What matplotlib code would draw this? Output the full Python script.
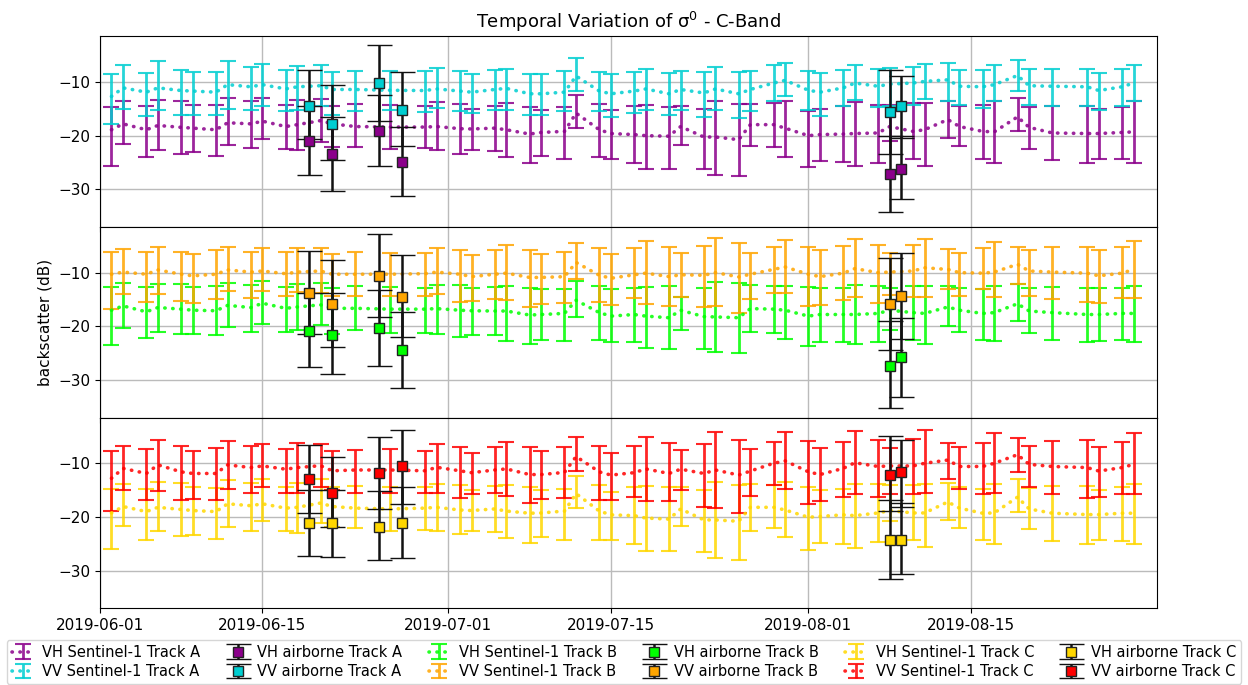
import numpy as np
import pandas as pd
import matplotlib
matplotlib.use('Agg')
from matplotlib import pyplot as plt
import matplotlib.dates as mdates

# Sentinel-1 acquisition dates
s1_dates = ['2019-06-02', '2019-06-03', '2019-06-05', '2019-06-06', '2019-06-08', '2019-06-09',
            '2019-06-11', '2019-06-12', '2019-06-14', '2019-06-15', '2019-06-17', '2019-06-18',
            '2019-06-20', '2019-06-21', '2019-06-23', '2019-06-26', '2019-06-29', '2019-06-30',
            '2019-07-02', '2019-07-03', '2019-07-05', '2019-07-06', '2019-07-08', '2019-07-09',
            '2019-07-11', '2019-07-12', '2019-07-14', '2019-07-15', '2019-07-17', '2019-07-18',
            '2019-07-20', '2019-07-21', '2019-07-23', '2019-07-24', '2019-07-26', '2019-07-27',
            '2019-07-29', '2019-07-30', '2019-08-01', '2019-08-02', '2019-08-04', '2019-08-05',
            '2019-08-07', '2019-08-08', '2019-08-10', '2019-08-11', '2019-08-13', '2019-08-14',
            '2019-08-16', '2019-08-17', '2019-08-19', '2019-08-20', '2019-08-22', '2019-08-25',
            '2019-08-26', '2019-08-28', '2019-08-29']

# mean backscatter (dB) and upper / lower bounds of the spread
vh_a = [-18.9, -17.8, -18.9, -18.1, -18.45, -18.6, -18.9, -17.6, -17.8, -17.3, -18.3, -17.95,
        -17.2, -17.8, -18.3, -18.4, -18.4, -18.3, -18.7, -18.75, -18.6, -18.9, -19.7, -19.4,
        -19.2, -15.8, -18.9, -19.6, -19.8, -20.0, -20.1, -18.3, -20.25, -20.25, -20.75, -17.95,
        -17.95, -18.6, -20.0, -19.8, -19.7, -19.6, -19.5, -18.3, -19.2, -18.9, -17.0, -18.3,
        -19.2, -19.3, -16.5, -18.45, -19.5, -19.6, -19.6, -19.4, -19.3]
vh_a_hi = [-14.7, -13.5, -14.5, -13.3, -13.5, -14.35, -14.35, -13.0, -13.5, -13.0, -14.35, -13.3,
           -13.2, -14.5, -14.1, -14.2, -14.5, -13.7, -14.1, -14.97, -14.4, -13.9, -14.7, -15.15,
           -14.7, -12.35, -14.1, -15.3, -14.5, -14.35, -14.7, -14.5, -14.97, -13.5, -14.1, -14.1,
           -13.9, -13.5, -15.5, -14.97, -14.5, -13.7, -14.2, -14.2, -14.0, -14.0, -13.6, -14.4,
           -14.2, -13.6, -13.0, -14.7, -14.4, -14.4, -15.0, -14.7, -13.6]
vh_a_lo = [-25.7, -21.55, -24.0, -22.6, -23.35, -23.0, -23.7, -21.8, -22.3, -20.6, -22.5, -22.7,
           -21.2, -22.2, -22.2, -22.5, -22.3, -22.7, -23.5, -22.7, -22.9, -24.0, -25.0, -23.7,
           -24.3, -18.6, -24.0, -24.3, -25.1, -26.2, -26.2, -21.7, -26.2, -27.3, -27.6, -22.0,
           -22.1, -24.0, -25.8, -24.7, -24.9, -25.6, -25.0, -21.05, -24.3, -25.6, -20.4, -22.0,
           -24.3, -25.1, -19.2, -22.4, -24.5, -25.0, -24.3, -24.3, -25.1]

vv_a = [-12.7, -11.1, -11.9, -11.1, -11.6, -11.7, -11.9, -10.5, -10.9, -10.5, -11.3, -10.9,
        -10.7, -11.4, -11.4, -11.55, -11.6, -11.3, -11.7, -11.9, -11.4, -11.2, -12.2, -12.2,
        -11.9, -8.9, -11.7, -12.2, -11.7, -11.3, -12.2, -11.4, -12.05, -11.3, -12.2, -11.4,
        -10.2, -9.7, -11.55, -11.9, -11.1, -10.2, -10.8, -10.4, -10.2, -9.9, -9.6, -10.8,
        -10.9, -10.5, -8.8, -10.7, -10.8, -10.9, -11.6, -10.9, -10.2]
vv_a_hi = [-8.45, -6.9, -8.3, -6.15, -7.7, -8.1, -8.1, -6.15, -7.3, -6.65, -7.7, -7.1,
           -6.8, -8.2, -7.9, -8.0, -7.9, -7.4, -8.0, -8.6, -7.7, -7.5, -8.5, -8.6,
           -8.0, -5.5, -8.1, -8.6, -8.1, -7.5, -8.3, -7.9, -8.1, -7.3, -8.2, -7.9,
           -6.8, -6.5, -7.9, -8.3, -7.7, -6.9, -7.6, -7.4, -7.3, -6.65, -6.5, -7.7,
           -7.7, -6.9, -5.85, -7.5, -7.5, -7.5, -8.3, -7.5, -6.9]
vv_a_lo = [-17.8, -15.0, -16.4, -15.15, -16.1, -16.1, -16.1, -15.0, -15.3, -14.5, -15.5, -15.15,
           -14.5, -16.1, -15.5, -15.3, -15.65, -14.85, -15.5, -15.8, -15.15, -15.15, -16.1, -16.1,
           -15.5, -11.7, -15.5, -16.6, -15.8, -15.15, -16.1, -15.15, -16.5, -15.15, -16.7, -15.5,
           -13.6, -12.7, -15.15, -16.4, -14.5, -13.3, -14.6, -14.4, -14.2, -13.2, -13.6, -14.2,
           -14.85, -13.6, -11.6, -14.2, -14.4, -14.4, -15.3, -14.5, -13.6]

vh_b = [-17.0, -16.2, -17.3, -16.5, -16.8, -17.0, -17.1, -16.1, -16.5, -15.7, -16.65, -16.4,
        -16.0, -16.65, -16.65, -16.8, -16.8, -16.7, -17.0, -17.1, -17.15, -17.15, -17.9, -17.8,
        -17.6, -15.15, -17.45, -18.1, -17.8, -18.1, -18.4, -17.0, -18.2, -18.25, -18.4, -16.7,
        -16.8, -17.0, -18.1, -17.8, -17.8, -17.8, -17.6, -17.0, -17.45, -17.6, -16.4, -17.0,
        -17.6, -17.45, -15.8, -17.15, -17.45, -17.8, -17.8, -17.6, -17.6]
vh_b_hi = [-12.7, -12.0, -12.7, -12.2, -12.2, -12.7, -12.5, -12.0, -12.3, -11.55, -12.7, -12.2,
           -12.0, -12.8, -12.5, -12.7, -12.9, -12.3, -12.3, -12.9, -12.7, -12.5, -12.9, -13.1,
           -13.1, -11.55, -12.5, -13.1, -12.8, -12.7, -12.5, -14.5, -12.8, -11.7, -12.0, -12.3,
           -12.5, -12.4, -12.7, -12.8, -12.8, -12.3, -12.5, -12.8, -12.5, -12.5, -12.5, -12.9,
           -13.1, -12.5, -12.05, -12.9, -12.7, -12.9, -12.9, -12.9, -12.5]
vh_b_lo = [-23.5, -20.4, -22.1, -21.0, -21.5, -21.5, -21.7, -20.1, -21.0, -19.5, -21.0, -20.6,
           -19.8, -21.5, -20.75, -21.2, -21.2, -21.4, -21.9, -21.7, -21.7, -22.7, -23.2, -22.55,
           -22.7, -18.2, -22.55, -22.9, -23.0, -24.1, -24.3, -20.75, -24.3, -24.7, -25.0, -21.0,
           -21.3, -22.3, -23.7, -23.0, -23.0, -23.2, -23.0, -20.6, -22.55, -23.2, -19.9, -21.0,
           -22.55, -22.7, -19.0, -21.3, -22.55, -23.0, -22.7, -22.55, -22.9]

vv_b = [-10.3, -9.9, -10.3, -9.5, -10.3, -10.6, -10.3, -9.5, -9.9, -9.7, -10.2, -9.9,
        -9.7, -10.3, -10.3, -10.3, -10.2, -9.9, -10.3, -10.75, -10.3, -10.1, -10.9, -10.9,
        -10.75, -8.1, -10.5, -11.05, -10.4, -10.1, -10.75, -10.4, -10.5, -10.0, -10.8, -10.3,
        -9.4, -8.95, -10.3, -10.75, -10.1, -9.25, -10.0, -9.9, -9.7, -9.1, -9.4, -10.0,
        -10.1, -9.9, -8.45, -9.7, -9.9, -10.1, -10.6, -10.1, -9.4]
vv_b_hi = [-6.1, -5.65, -6.1, -5.15, -6.1, -6.45, -5.85, -5.15, -6.1, -5.5, -6.1, -5.35,
           -5.5, -6.45, -6.1, -6.4, -6.3, -5.35, -5.85, -6.7, -5.8, -4.9, -5.85, -6.45,
           -6.1, -4.5, -5.45, -6.45, -5.45, -4.2, -5.15, -6.3, -5.0, -3.6, -4.5, -6.3,
           -5.15, -3.9, -5.15, -5.8, -5.0, -3.8, -4.9, -6.3, -4.9, -3.65, -5.65, -6.3,
           -5.5, -4.3, -5.15, -5.85, -5.15, -5.15, -5.85, -5.2, -4.1]
vv_b_lo = [-16.8, -13.9, -15.5, -14.0, -15.3, -15.6, -15.0, -13.5, -14.65, -13.5, -14.35, -13.7,
           -13.85, -14.35, -14.35, -14.35, -14.35, -13.9, -15.5, -15.3, -15.0, -15.1, -16.4, -15.9,
           -15.7, -11.1, -15.5, -16.1, -14.8, -15.9, -16.2, -14.5, -16.4, -16.2, -17.6, -14.85,
           -13.85, -13.85, -16.2, -16.0, -15.1, -14.5, -15.7, -14.2, -14.5, -14.5, -13.1, -14.35,
           -13.1, -14.5, -12.05, -14.35, -14.85, -15.5, -15.6, -14.8, -14.65]

vh_c = [-19.25, -18.05, -19.0, -18.2, -18.6, -18.8, -19.0, -17.55, -17.9, -17.55, -18.35, -18.2,
        -17.4, -18.05, -18.35, -18.5, -18.35, -18.2, -18.7, -18.8, -18.5, -18.9, -19.3, -19.25,
        -18.9, -15.65, -18.9, -19.6, -19.75, -20.2, -20.4, -18.5, -20.55, -20.55, -20.8, -18.2,
        -18.2, -18.7, -20.05, -19.9, -19.6, -19.75, -19.25, -18.8, -19.25, -19.25, -17.2, -18.35,
        -19.3, -19.25, -16.3, -18.5, -19.3, -19.55, -19.55, -19.3, -19.3]
vh_c_hi = [-14.85, -13.8, -14.85, -13.45, -13.6, -14.4, -14.6, -13.15, -13.6, -12.95, -14.5, -13.6,
           -12.95, -14.5, -14.3, -14.4, -14.5, -13.8, -14.1, -15.0, -14.3, -14.1, -14.5, -15.0,
           -14.7, -12.4, -14.1, -15.35, -14.5, -14.3, -14.5, -14.4, -15.0, -13.45, -14.1, -13.9,
           -14.1, -13.45, -14.5, -15.0, -14.7, -13.8, -13.9, -14.1, -14.1, -13.95, -13.6, -14.4,
           -14.85, -13.8, -13.0, -14.6, -14.3, -14.3, -15.0, -14.5, -13.8]
vh_c_lo = [-26.0, -21.75, -24.3, -22.7, -23.5, -23.3, -24.15, -21.95, -22.6, -20.7, -22.7, -22.9,
           -21.2, -21.95, -22.1, -22.6, -22.4, -22.7, -23.2, -22.7, -22.8, -24.0, -24.8, -23.65,
           -24.3, -18.3, -24.3, -24.3, -25.0, -26.35, -26.35, -21.6, -26.5, -27.6, -28.05, -22.6,
           -22.1, -23.8, -26.2, -24.8, -25.0, -25.7, -24.6, -20.8, -24.3, -25.5, -20.5, -22.1,
           -24.3, -25.1, -19.1, -22.3, -24.45, -25.1, -24.3, -24.45, -25.1]

vv_c = [-12.8, -10.95, -11.9, -10.3, -11.6, -11.9, -11.9, -10.3, -10.8, -10.5, -11.1, -10.8,
        -10.45, -11.4, -11.25, -11.25, -11.4, -10.75, -11.4, -11.75, -11.25, -11.05, -12.1, -12.1,
        -11.7, -8.75, -11.6, -12.2, -11.75, -11.05, -11.9, -11.1, -11.9, -11.25, -12.2, -11.45,
        -10.0, -9.55, -11.6, -12.1, -10.95, -9.9, -10.6, -10.5, -10.5, -10.0, -9.4, -10.6,
        -10.6, -10.0, -8.4, -10.2, -10.6, -10.8, -11.45, -10.8, -10.2]
vv_c_hi = [-7.7, -6.85, -7.35, -5.6, -6.85, -7.7, -7.2, -5.8, -6.85, -6.4, -7.35, -6.2,
           -6.4, -7.8, -7.5, -7.35, -7.7, -6.4, -7.0, -8.0, -7.0, -6.05, -7.0, -7.8,
           -7.0, -5.15, -6.7, -8.0, -6.7, -5.1, -6.2, -7.6, -6.4, -4.2, -5.6, -7.35,
           -6.05, -4.2, -5.8, -7.15, -6.05, -4.0, -5.6, -7.2, -5.4, -3.85, -6.2, -7.0,
           -6.2, -4.35, -5.3, -6.7, -5.9, -5.6, -7.05, -6.05, -4.45]
vv_c_lo = [-18.8, -15.0, -16.9, -15.2, -16.8, -16.6, -16.8, -14.7, -15.55, -14.4, -15.55, -15.55,
           -14.5, -15.0, -15.5, -15.55, -15.5, -15.5, -16.4, -15.8, -15.55, -16.1, -17.35, -16.6,
           -16.5, -11.4, -16.8, -16.9, -16.3, -17.1, -17.1, -15.0, -18.2, -18.4, -19.3, -16.1,
           -14.1, -14.7, -17.55, -17.1, -16.3, -15.8, -16.3, -15.65, -15.8, -15.5, -12.95, -14.7,
           -15.65, -15.55, -11.6, -14.5, -15.8, -16.4, -16.3, -15.8, -15.8]

# airborne flight dates
air_dates = ['2019-06-19', '2019-06-21', '2019-06-25', '2019-06-27', '2019-08-08', '2019-08-09']

air_vh_a = [-21.05, -23.4, -19.2, -24.9, -27.1, -26.2]
air_vh_a_hi = [-14.4, -16.5, -12.4, -18.3, -20.1, -20.0]
air_vh_a_lo = [-27.3, -30.25, -25.7, -31.2, -34.3, -31.8]
air_vv_a = [-14.4, -17.8, -10.2, -15.3, -15.6, -14.4]
air_vv_a_hi = [-7.8, -10.6, -3.2, -8.1, -7.8, -8.8]
air_vv_a_lo = [-20.6, -24.5, -17.2, -22.0, -23.35, -20.5]

air_vh_b = [-20.9, -21.6, -20.4, -24.4, -27.3, -25.7]
air_vh_b_hi = [-13.85, -13.85, -13.3, -17.3, -19.1, -18.4]
air_vh_b_lo = [-27.6, -28.95, -27.4, -31.4, -35.2, -33.2]
air_vv_b = [-13.85, -15.9, -10.6, -14.5, -15.9, -14.35]
air_vv_b_hi = [-5.95, -7.7, -2.85, -6.8, -7.2, -6.3]
air_vv_b_lo = [-21.4, -23.85, -18.2, -22.0, -24.5, -22.3]

air_vh_c = [-21.2, -21.2, -21.8, -21.2, -24.3, -24.3]
air_vh_c_hi = [-15.0, -14.9, -15.2, -14.5, -16.9, -17.4]
air_vh_c_lo = [-27.3, -27.5, -28.05, -27.6, -31.6, -30.6]
air_vv_c = [-13.0, -15.5, -11.9, -10.6, -12.1, -11.7]
air_vv_c_hi = [-6.65, -8.9, -5.1, -3.85, -4.85, -5.7]
air_vv_c_lo = [-19.3, -21.95, -18.6, -17.55, -18.9, -18.05]

tracks = ['A', 'B', 'C']
colors = {'A': ('darkmagenta', 'darkturquoise'),
          'B': ('lime', 'orange'),
          'C': ('gold', 'red')}

s1 = {'A': ((vh_a, vh_a_hi, vh_a_lo), (vv_a, vv_a_hi, vv_a_lo)),
      'B': ((vh_b, vh_b_hi, vh_b_lo), (vv_b, vv_b_hi, vv_b_lo)),
      'C': ((vh_c, vh_c_hi, vh_c_lo), (vv_c, vv_c_hi, vv_c_lo))}
air = {'A': ((air_vh_a, air_vh_a_hi, air_vh_a_lo), (air_vv_a, air_vv_a_hi, air_vv_a_lo)),
       'B': ((air_vh_b, air_vh_b_hi, air_vh_b_lo), (air_vv_b, air_vv_b_hi, air_vv_b_lo)),
       'C': ((air_vh_c, air_vh_c_hi, air_vh_c_lo), (air_vv_c, air_vv_c_hi, air_vv_c_lo))}

t_s1 = pd.to_datetime(s1_dates)
t_air = pd.to_datetime(air_dates)


def yerr(mean, hi, lo):
    mean = np.asarray(mean)
    return [mean - np.asarray(lo), np.asarray(hi) - mean]


fig, axes = plt.subplots(3, 1, sharex=True, sharey=True, figsize=(12.48, 6.85), dpi=100)
fig.subplots_adjust(left=0.080, right=0.927, top=0.947, bottom=0.112, hspace=0)

handles = []
for ax, tr in zip(axes, tracks):
    c_vh, c_vv = colors[tr]
    for pol, (m, hi, lo), c in zip(['VH', 'VV'], s1[tr], (c_vh, c_vv)):
        h = ax.errorbar(t_s1, m, yerr=yerr(m, hi, lo), color=c, lw=2.6,
                        ls=(0, (0.1, 2.1)), dash_capstyle='round',
                        elinewidth=2, capsize=6, capthick=1.5, alpha=0.85,
                        label=f'{pol} Sentinel-1 Track {tr}')
        handles.append(h)
    for pol, (m, hi, lo), c in zip(['VH', 'VV'], air[tr], (c_vh, c_vv)):
        h = ax.errorbar(t_air, m, yerr=yerr(m, hi, lo), fmt='s', ms=7, mfc=c, mec='#222222',
                        mew=1, ecolor='#111111', elinewidth=1.8, capsize=9, capthick=1.5,
                        zorder=5, label=f'{pol} airborne Track {tr}')
        handles.append(h)
    ax.grid(True, color='#bbbbbb', lw=1)
    ax.set_axisbelow(True)
    ax.set_yticks([-30, -20, -10])
    ax.tick_params(labelsize=11)

axes[0].set_ylim(-37, -1.5)
axes[0].set_xlim(pd.Timestamp('2019-06-01'), pd.Timestamp('2019-08-31'))
axes[-1].xaxis.set_major_locator(mdates.DayLocator(bymonthday=[1, 15]))
axes[-1].xaxis.set_major_formatter(mdates.DateFormatter('%Y-%m-%d'))
axes[0].set_title(r'Temporal Variation of $\mathregular{\sigma^0}$ - C-Band', fontsize=13)
axes[1].set_ylabel('backscatter (dB)', fontsize=11)

fig.legend(handles=handles, loc='lower center', ncol=6, fontsize=10.5,
           bbox_to_anchor=(0.5, 0.0), borderaxespad=0.05, labelspacing=0.3,
           columnspacing=1.8, handlelength=1.5, handletextpad=0.6, borderpad=0.35)

plt.savefig('out.png')
